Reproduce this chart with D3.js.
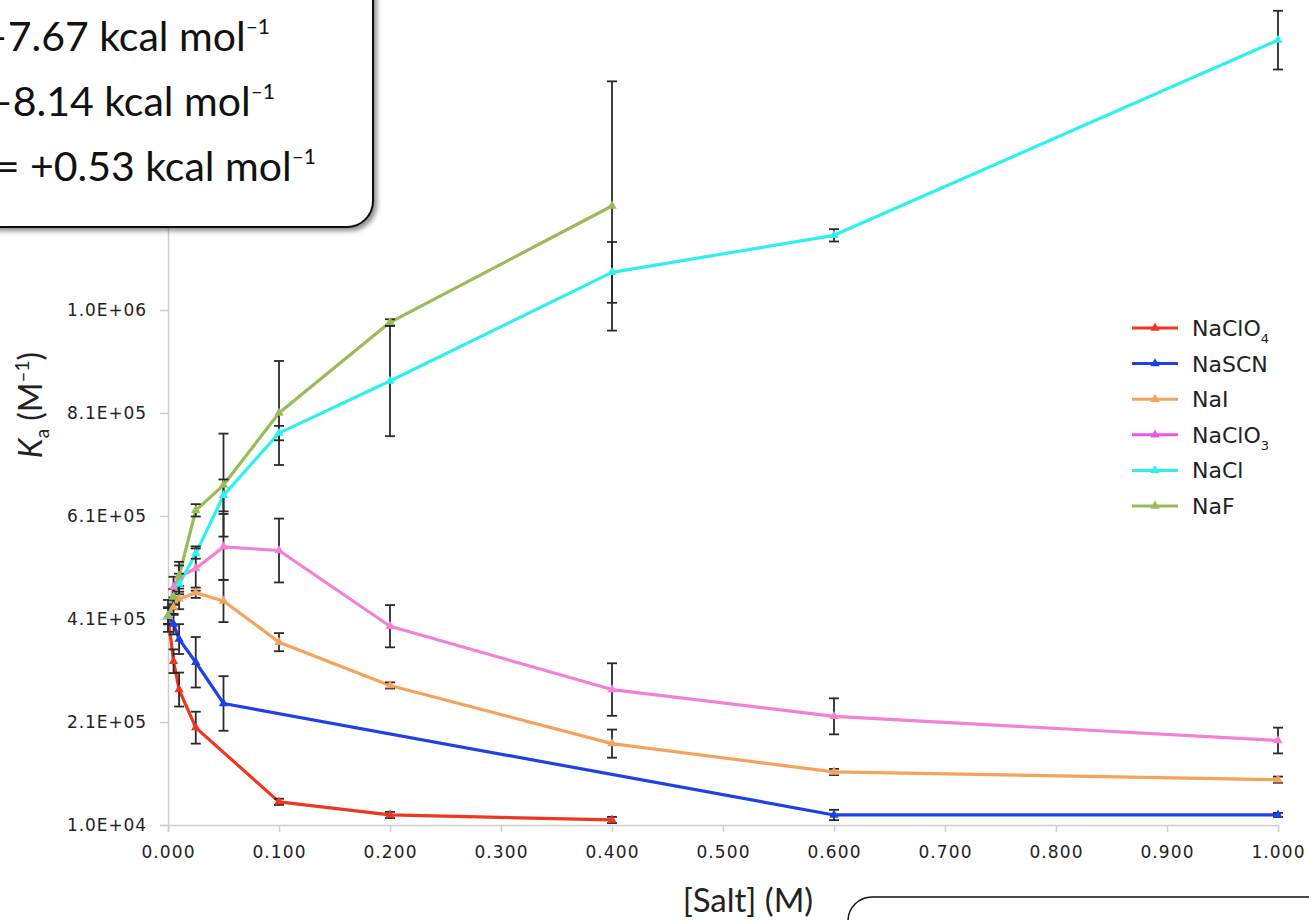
<!DOCTYPE html>
<html>
<head>
<meta charset="utf-8">
<script src="https://cdn.jsdelivr.net/npm/d3@7/dist/d3.min.js"></script>
<style>
  body { margin: 0; background: #fff; overflow: hidden; }
  svg { display: block; }
</style>
</head>
<body>
<div id="chart"></div>
<script>

// salt concentrations (M) and association constants Ka (M^-1)
const saltNames = ["NaClO4", "NaSCN", "NaI", "NaClO3", "NaCl", "NaF"];
const saltColors = ["#ee3620", "#1e40e6", "#f4a35c", "#f280d6", "#2ef0f0", "#9bbb59"];
const legendColors = ["#ee3620", "#1e40e6", "#f4a35c", "#ee55e0", "#2ef0f0", "#9bbb59"];

const concNaClO4 = [0, 0.005, 0.01, 0.025, 0.1, 0.2, 0.4];
const kaNaClO4   = [4.16e5, 3.28e5, 2.73e5, 1.99e5, 5.5e4, 2.95e4, 1.98e4];
const errNaClO4  = [3.1e4, 2.3e4, 3.3e4, 3.1e4, 6e3, 6e3, 6e3];

const concNaSCN = [0, 0.005, 0.01, 0.025, 0.05, 0.6, 1.0];
const kaNaSCN   = [4.16e5, 4.0e5, 3.71e5, 3.26e5, 2.46e5, 2.95e4, 2.95e4];
const errNaSCN  = [1.6e4, 2e4, 2.9e4, 4.9e4, 5.3e4, 1e4, 4e3];

const concNaI = [0, 0.005, 0.01, 0.025, 0.05, 0.1, 0.2, 0.4, 0.6, 1.0];
const kaNaI   = [4.16e5, 4.33e5, 4.49e5, 4.61e5, 4.45e5, 3.65e5, 2.81e5, 1.68e5, 1.13e5, 9.8e4];
const errNaI  = [1.6e4, 1.5e4, 2e4, 1e4, 4.1e4, 1.76e4, 6e3, 2.73e4, 6e3, 6e3];

const concNaClO3 = [0, 0.005, 0.01, 0.025, 0.05, 0.1, 0.2, 0.4, 0.6, 1.0];
const kaNaClO3   = [4.16e5, 4.72e5, 4.92e5, 5.08e5, 5.50e5, 5.43e5, 3.96e5, 2.73e5, 2.21e5, 1.74e5];
const errNaClO3  = [1.6e4, 2e4, 2.9e4, 4.3e4, 6.4e4, 6.2e4, 4.1e4, 5.1e4, 3.5e4, 2.5e4];

const concNaCl = [0, 0.005, 0.01, 0.025, 0.05, 0.1, 0.2, 0.4, 0.6, 1.0];
const kaNaCl   = [4.16e5, 4.53e5, 4.78e5, 5.37e5, 6.50e5, 7.71e5, 8.72e5, 1.083e6, 1.155e6, 1.534e6];
const errNaCl  = [1.6e4, 1.5e4, 2e4, 1e4, 3.1e4, 1.4e4, 1.07e5, 5.9e4, 1.2e4, 5.7e4];

const concNaF = [0, 0.005, 0.01, 0.025, 0.05, 0.1, 0.2, 0.4];
const kaNaF   = [4.16e5, 4.53e5, 4.94e5, 6.21e5, 6.70e5, 8.10e5, 9.86e5, 1.212e6];
const errNaF  = [1.6e4, 1.5e4, 2e4, 1.2e4, 1.0e5, 1.01e5, 6e3, 2.42e5];

const xTicks = [0, 0.1, 0.2, 0.3, 0.4, 0.5, 0.6, 0.7, 0.8, 0.9, 1.0];
const yTicks = [1e4, 2.1e5, 4.1e5, 6.1e5, 8.1e5, 1.01e6, 1.21e6, 1.41e6, 1.61e6];

// free energy box text (left part is cropped in the slide)
const energyValues = ["\u20137.67", "\u20138.14", "= +0.53"];

function main() {

    const width = 1309, height = 920;

    const svg = d3.select("#chart")
        .append("svg")
        .attr("width", width)
        .attr("height", height);

    const defs = svg.append("defs");
    const shadow = defs.append("filter")
        .attr("id", "shadow")
        .attr("x", "-20%").attr("y", "-20%")
        .attr("width", "140%").attr("height", "140%");
    shadow.append("feDropShadow")
        .attr("dx", 3).attr("dy", 3)
        .attr("stdDeviation", 2.5)
        .attr("flood-color", "#000")
        .attr("flood-opacity", 0.45);

    const x = d3.scaleLinear()
        .domain([0, 1])
        .range([168, 1278]);

    const y = d3.scaleLinear()
        .domain([1e4, 1.61e6])
        .range([825, 1]);

    const fmtY = v => {
        const [m, e] = v.toExponential(1).split("e");
        const n = Math.abs(+e);
        return m.toUpperCase() + "E" + (+e < 0 ? "-" : "+") + (n < 10 ? "0" + n : n);
    };

    // X axis
    const xAxis = svg.append("g")
        .attr("transform", "translate(0,825)")
        .call(d3.axisBottom(x).tickValues(xTicks).tickFormat(d3.format(".3f")).tickSizeOuter(0).tickSize(7).tickPadding(14));
    xAxis.select(".domain").attr("stroke", "#cfcfcf").attr("stroke-width", 1.5);
    xAxis.selectAll(".tick line").attr("stroke", "#cfcfcf").attr("stroke-width", 1.5);
    xAxis.selectAll(".tick text")
        .attr("font-family", "DejaVu Sans, Verdana, sans-serif")
        .attr("font-size", 17)
        .attr("letter-spacing", 1.1)
        .attr("fill", "#222");

    // Y axis
    const yAxis = svg.append("g")
        .attr("transform", "translate(168,0)")
        .call(d3.axisLeft(y).tickValues(yTicks).tickFormat(fmtY).tickSizeOuter(0).tickSize(8).tickPadding(13));
    yAxis.select(".domain").attr("stroke", "#cfcfcf").attr("stroke-width", 1.5);
    yAxis.selectAll(".tick line").attr("stroke", "#cfcfcf").attr("stroke-width", 1.5);
    yAxis.selectAll(".tick text")
        .attr("font-family", "DejaVu Sans, Verdana, sans-serif")
        .attr("font-size", 17)
        .attr("letter-spacing", 0.9)
        .attr("fill", "#222");

    // axis titles
    svg.append("text")
        .attr("x", 748)
        .attr("y", 912)
        .attr("text-anchor", "middle")
        .attr("font-family", "Lato, sans-serif")
        .attr("font-size", 33)
        .attr("fill", "#222")
        .text("[Salt] (M)");

    const yTitle = svg.append("text")
        .attr("transform", "translate(42,405) rotate(-90)")
        .attr("text-anchor", "middle")
        .attr("font-family", "Lato, sans-serif")
        .attr("font-size", 32)
        .attr("fill", "#222");
    yTitle.append("tspan").attr("font-style", "italic").text("K");
    yTitle.append("tspan").attr("font-size", 19).attr("dy", 7).text("a");
    yTitle.append("tspan").attr("dy", -7).text(" (M");
    yTitle.append("tspan").attr("font-size", 19).attr("dy", -13).text("\u20131");
    yTitle.append("tspan").attr("dy", 13).text(")");

    const allSeries = [
        {name: saltNames[0], conc: concNaClO4, ka: kaNaClO4, err: errNaClO4},
        {name: saltNames[1], conc: concNaSCN, ka: kaNaSCN, err: errNaSCN},
        {name: saltNames[2], conc: concNaI, ka: kaNaI, err: errNaI},
        {name: saltNames[3], conc: concNaClO3, ka: kaNaClO3, err: errNaClO3},
        {name: saltNames[4], conc: concNaCl, ka: kaNaCl, err: errNaCl},
        {name: saltNames[5], conc: concNaF, ka: kaNaF, err: errNaF}
    ].map((s, i) => ({
        name: s.name,
        color: saltColors[i],
        points: s.conc.map((c, j) => ({c: c, k: s.ka[j], e: s.err[j]}))
    }));

    const line = d3.line()
        .x(d => x(d.c))
        .y(d => y(d.k));

    const tri = d3.symbol().type(d3.symbolTriangle).size(38);

    // lines
    svg.append("g").selectAll("path")
        .data(allSeries)
        .join("path")
        .attr("fill", "none")
        .attr("stroke", d => d.color)
        .attr("stroke-width", 3.2)
        .attr("stroke-linejoin", "round")
        .attr("d", d => line(d.points));

    // error bars
    const errG = svg.append("g")
        .attr("stroke", "#2a2a2a")
        .attr("stroke-width", 1.8);
    allSeries.forEach(s => {
        const g = errG.append("g");
        g.selectAll("line.v")
            .data(s.points)
            .join("line")
            .attr("class", "v")
            .attr("x1", d => x(d.c)).attr("x2", d => x(d.c))
            .attr("y1", d => y(d.k - d.e)).attr("y2", d => y(d.k + d.e));
        g.selectAll("line.top")
            .data(s.points)
            .join("line")
            .attr("class", "top")
            .attr("x1", d => x(d.c) - 5).attr("x2", d => x(d.c) + 5)
            .attr("y1", d => y(d.k + d.e)).attr("y2", d => y(d.k + d.e));
        g.selectAll("line.bot")
            .data(s.points)
            .join("line")
            .attr("class", "bot")
            .attr("x1", d => x(d.c) - 5).attr("x2", d => x(d.c) + 5)
            .attr("y1", d => y(d.k - d.e)).attr("y2", d => y(d.k - d.e));
    });

    // markers
    allSeries.forEach(s => {
        svg.append("g").selectAll("path")
            .data(s.points)
            .join("path")
            .attr("d", tri)
            .attr("fill", s.color)
            .attr("transform", d => `translate(${x(d.c)},${y(d.k)})`);
    });

    // legend
    const legend = svg.append("g");
    saltNames.forEach((name, i) => {
        const ly = 328 + i * 35.6;
        legend.append("line")
            .attr("x1", 1132).attr("x2", 1178)
            .attr("y1", ly).attr("y2", ly)
            .attr("stroke", legendColors[i])
            .attr("stroke-width", 3);
        legend.append("path")
            .attr("d", tri)
            .attr("fill", legendColors[i])
            .attr("transform", `translate(1155,${ly})`);
        const t = legend.append("text")
            .attr("x", 1192)
            .attr("y", ly + 8)
            .attr("font-family", "DejaVu Sans, sans-serif")
            .attr("font-size", 22)
            .attr("fill", "#222");
        const m = name.match(/^(.*?)(\d)$/);
        if (m) {
            t.append("tspan").text(m[1]);
            t.append("tspan").attr("font-size", 13).attr("dy", 7).text(m[2]);
        } else {
            t.text(name);
        }
    });

    // rounded free-energy box at top left
    svg.append("rect")
        .attr("x", -30).attr("y", -30)
        .attr("width", 403).attr("height", 257)
        .attr("rx", 26)
        .attr("fill", "#fff")
        .attr("stroke", "#111")
        .attr("stroke-width", 2)
        .attr("filter", "url(#shadow)");

    const rightEnds = [270, 275, 316];
    energyValues.forEach((v, i) => {
        const t = svg.append("text")
            .attr("x", rightEnds[i])
            .attr("y", 51 + i * 65)
            .attr("text-anchor", "end")
            .attr("font-family", "Lato, sans-serif")
            .attr("font-size", 41)
            .attr("fill", "#111");
        t.append("tspan").text(v + " kcal mol");
        t.append("tspan").attr("font-size", 21).attr("dy", -17).text("\u20131");
    });

    // second box, cut by the bottom right edge
    svg.append("rect")
        .attr("x", 848).attr("y", 897)
        .attr("width", 520).attr("height", 120)
        .attr("rx", 24)
        .attr("fill", "#fff")
        .attr("stroke", "#111")
        .attr("stroke-width", 1.5);
}

main()

</script>
</body>
</html>
